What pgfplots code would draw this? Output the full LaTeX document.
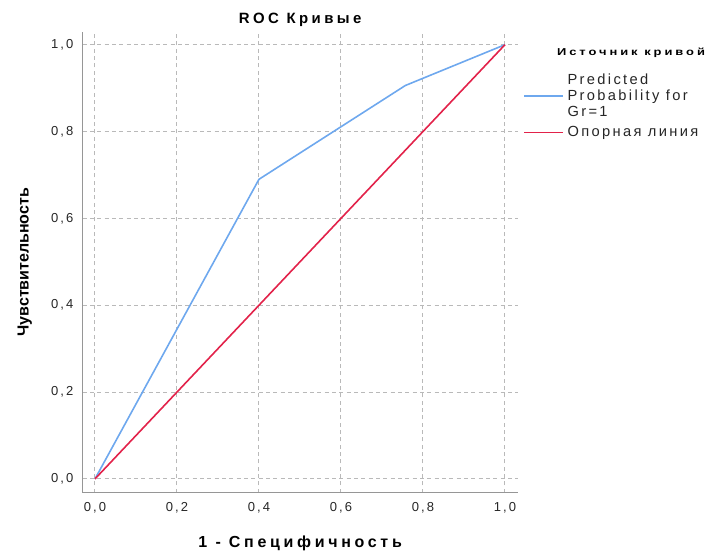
\documentclass[border=0pt]{standalone}
\usepackage{pgfplots}
\pgfplotsset{compat=1.18}
\usepackage{fontspec}
\setmainfont{Liberation Sans}[LetterSpace=16]
\newfontfamily\bfx{Liberation Sans}[LetterSpace=23]
\newfontfamily\plainf{Liberation Sans}
\usepackage{graphicx}
\definecolor{rocblue}{RGB}{110,168,238}
\definecolor{refred}{RGB}{226,34,74}
\definecolor{axgray}{RGB}{150,150,150}
\definecolor{gridgray}{RGB}{185,185,185}
\begin{document}
\begin{tikzpicture}
\useasboundingbox (-62pt,-46pt) rectangle (472pt,369.5pt);
\begin{axis}[
  name=ax,
  at={(0,0)}, anchor=south west,
  scale only axis, width=326.25pt, height=345.75pt,
  xmin=-0.030, xmax=1.031, ymin=-0.0316, ymax=1.030,
  axis lines=left,
  axis line style={-, axgray, line width=1.2pt},
  xtick={0,0.2,0.4,0.6,0.8,1}, ytick={0,0.2,0.4,0.6,0.8,1},
  major tick length=0pt, tick style={draw=none},
  grid=major,
  major grid style={gridgray, line width=0.7pt, dash pattern=on 3pt off 2.5pt},
  /pgf/number format/.cd, fixed, fixed zerofill, precision=1, use comma, assume math mode=true,
  /pgfplots/.cd,
  ticklabel style={font=\fontsize{9.75}{11}\selectfont, text=black!85},
  xticklabel style={anchor=north, yshift=-4pt},
  yticklabel style={anchor=east, xshift=-3.5pt},
  title={ROC Кривые},
  title style={at={(axis description cs:0.5,1)}, anchor=center, yshift=3pt, font=\bfx\fontsize{11.2}{13}\selectfont\bfseries},
  xlabel={1 - Специфичность},
  xlabel style={at={(axis description cs:0.5,0)}, anchor=center, yshift=-38pt, font=\bfx\fontsize{12}{14}\selectfont\bfseries},
  ylabel={Чувствительность},
  ylabel style={at={([xshift=-43.5pt]axis description cs:0,0.5)}, anchor=center, font=\plainf\fontsize{12}{14}\selectfont\bfseries},
  legend style={at={([xshift=4pt,yshift=-43.5pt]axis description cs:1,1)}, anchor=north west,
    draw=none, fill=none, inner sep=0pt, row sep=18pt, column sep=3pt,
    font=\fontsize{11}{12}\selectfont,
    nodes={inner sep=0pt, text=black!85}},
  legend cell align=left,
  legend image code/.code={\draw[#1] (0pt,0pt) -- (29pt,0pt);},
]
\addplot[rocblue, line width=1.2pt] coordinates {(0,0) (0.40,0.69) (0.757,0.906) (1,1)};
\addlegendentry{\smash{\rlap{\raisebox{12pt}{Predicted}}}\smash{\rlap{\raisebox{-12pt}{Gr=1}}}Probability for}
\addplot[refred, line width=1.2pt] coordinates {(0,0) (1,1)};
\addlegendentry{Опорная линия}
\end{axis}
\node[anchor=center] at ([xshift=85pt,yshift=-16pt]ax.north east) {\resizebox{111pt}{5.6pt}{\bfx\bfseries Источник кривой}};
\end{tikzpicture}
\end{document}
